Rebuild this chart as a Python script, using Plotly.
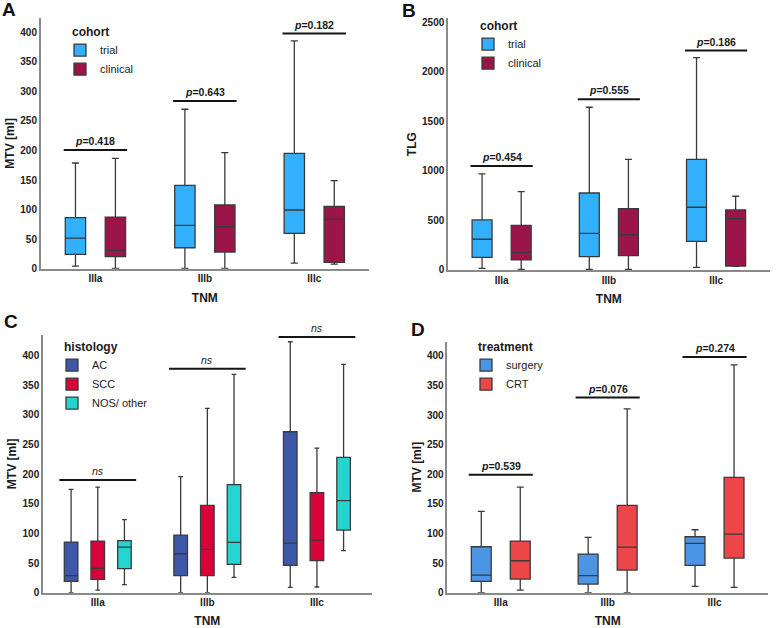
import plotly.graph_objects as go

W, H = 777, 628
FONT = "Liberation Sans, Arial, sans-serif"

# ---------------- data ----------------
TNM = ["IIIa", "IIIb", "IIIc"]

# Panel A: MTV [ml] by cohort
A_NAMES = ["trial", "clinical"]
A_TRIAL_LOW = [4.5, 0.5, 9.6]
A_TRIAL_Q1 = [24.3, 35.5, 59.8]
A_TRIAL_MED = [51.9, 73.3, 99.3]
A_TRIAL_Q3 = [86.3, 141.0, 195.2]
A_TRIAL_HIGH = [178.8, 269.7, 385.3]
A_CLIN_LOW = [0.6, 0.5, 7.9]
A_CLIN_Q1 = [20.3, 28.2, 10.7]
A_CLIN_MED = [31.0, 71.0, 83.5]
A_CLIN_Q3 = [87.4, 107.8, 105.5]
A_CLIN_HIGH = [186.7, 196.3, 149.0]
A_BRACKET_Y = [200.8, 283.8, 397.7]
A_PVALUES = ["0.418", "0.643", "0.182"]

# Panel B: TLG by cohort
B_NAMES = ["trial", "clinical"]
B_TRIAL_LOW = [17, 7, 27]
B_TRIAL_Q1 = [128, 135, 289]
B_TRIAL_MED = [310, 370, 633]
B_TRIAL_Q3 = [505, 777, 1117]
B_TRIAL_HIGH = [969, 1642, 2143]
B_CLIN_LOW = [7, 7, 37]
B_CLIN_Q1 = [101, 145, 40]
B_CLIN_MED = [178, 357, 518]
B_CLIN_Q3 = [451, 619, 606]
B_CLIN_HIGH = [791, 1117, 744]
B_BRACKET_Y = [1050, 1723, 2214]
B_PVALUES = ["0.454", "0.555", "0.186"]

# Panel C: MTV [ml] by histology
C_NAMES = ["AC", "SCC", "NOS/ other"]
C_AC_LOW = [0.0, 0.0, 9.0]
C_AC_Q1 = [19.1, 28.7, 46.1]
C_AC_MED = [28.7, 65.8, 83.8]
C_AC_Q3 = [85.5, 97.3, 271.7]
C_AC_HIGH = [174.4, 195.8, 423.6]
C_SCC_LOW = [4.5, 0.0, 9.6]
C_SCC_Q1 = [22.5, 28.7, 54.0]
C_SCC_MED = [41.0, 73.1, 88.9]
C_SCC_Q3 = [87.2, 147.4, 168.8]
C_SCC_HIGH = [178.3, 311.0, 244.2]
C_NOS_LOW = [13.5, 25.9, 70.9]
C_NOS_Q1 = [40.5, 47.8, 105.8]
C_NOS_MED = [77.0, 85.0, 155.3]
C_NOS_Q3 = [87.8, 182.3, 228.4]
C_NOS_HIGH = [123.2, 368.5, 385.4]
C_BRACKET_Y = [190.2, 378.0, 431.5]
C_LABELS = ["ns", "ns", "ns"]

# Panel D: MTV [ml] by treatment
D_NAMES = ["surgery", "CRT"]
D_SURG_LOW = [0.0, 0.0, 10.7]
D_SURG_Q1 = [19.1, 14.6, 46.1]
D_SURG_MED = [29.8, 28.7, 83.3]
D_SURG_Q3 = [77.6, 65.3, 94.5]
D_SURG_HIGH = [137.3, 93.4, 106.3]
D_CRT_LOW = [4.5, 0.0, 9.0]
D_CRT_Q1 = [23.0, 38.3, 58.5]
D_CRT_MED = [54.0, 77.0, 99.0]
D_CRT_Q3 = [87.2, 147.4, 194.7]
D_CRT_HIGH = [178.3, 310.5, 384.8]
D_BRACKET_Y = [199.2, 329.7, 398.3]
D_PVALUES = ["0.539", "0.076", "0.274"]

# ---------------- styles ----------------
COL_TRIAL = "#33B0FC"
COL_CLIN = "#9C1549"
COL_AC = "#3D58A8"
COL_SCC = "#D8033A"
COL_NOS = "#24D4D0"
COL_SURG = "#4B95E5"
COL_CRT = "#EC4649"
BOX_LINE = "#3a3a3a"
AXIS_LINE = "#8a8a8a"

panels = [
    dict(key="A", xa="x", ya="y", leg="legend", ytitle="MTV [ml]", legtitle="cohort",
         yrange=[0, 424], dtick=50, xdom=[0.0524, 0.4749], ydom=[0.5721, 0.9713], hw=0.29,
         series=[(A_NAMES[0], COL_TRIAL, A_TRIAL_LOW, A_TRIAL_Q1, A_TRIAL_MED, A_TRIAL_Q3, A_TRIAL_HIGH),
                 (A_NAMES[1], COL_CLIN, A_CLIN_LOW, A_CLIN_Q1, A_CLIN_MED, A_CLIN_Q3, A_CLIN_HIGH)],
         brackets=A_BRACKET_Y, labels=["<i>p</i>=" + p for p in A_PVALUES], bold=True,
         letter=(8.5, 10), legpos=(70, 20)),
    dict(key="B", xa="x2", ya="y2", leg="legend2", ytitle="TLG", legtitle="cohort",
         yrange=[0, 2540], dtick=500, xdom=[0.5766, 0.9906], ydom=[0.5701, 0.9709], hw=0.29,
         series=[(B_NAMES[0], COL_TRIAL, B_TRIAL_LOW, B_TRIAL_Q1, B_TRIAL_MED, B_TRIAL_Q3, B_TRIAL_HIGH),
                 (B_NAMES[1], COL_CLIN, B_CLIN_LOW, B_CLIN_Q1, B_CLIN_MED, B_CLIN_Q3, B_CLIN_HIGH)],
         brackets=B_BRACKET_Y, labels=["<i>p</i>=" + p for p in B_PVALUES], bold=True,
         letter=(409, 10.5), legpos=(478, 14)),
    dict(key="C", xa="x3", ya="y3", leg="legend3", ytitle="MTV [ml]", legtitle="histology",
         yrange=[0, 435], dtick=50, xdom=[0.0553, 0.4784], ydom=[0.0562, 0.4666], hw=0.35,
         series=[(C_NAMES[0], COL_AC, C_AC_LOW, C_AC_Q1, C_AC_MED, C_AC_Q3, C_AC_HIGH),
                 (C_NAMES[1], COL_SCC, C_SCC_LOW, C_SCC_Q1, C_SCC_MED, C_SCC_Q3, C_SCC_HIGH),
                 (C_NAMES[2], COL_NOS, C_NOS_LOW, C_NOS_Q1, C_NOS_MED, C_NOS_Q3, C_NOS_HIGH)],
         brackets=C_BRACKET_Y, labels=["<i>" + t + "</i>" for t in C_LABELS], bold=False,
         letter=(11, 321.5), legpos=(62, 335)),
    dict(key="D", xa="x4", ya="y4", leg="legend4", ytitle="MTV [ml]", legtitle="treatment",
         yrange=[0, 424], dtick=50, xdom=[0.5757, 0.9884], ydom=[0.0562, 0.4559], hw=0.30,
         series=[(D_NAMES[0], COL_SURG, D_SURG_LOW, D_SURG_Q1, D_SURG_MED, D_SURG_Q3, D_SURG_HIGH),
                 (D_NAMES[1], COL_CRT, D_CRT_LOW, D_CRT_Q1, D_CRT_MED, D_CRT_Q3, D_CRT_HIGH)],
         brackets=D_BRACKET_Y, labels=["<i>p</i>=" + p for p in D_PVALUES], bold=True,
         letter=(418, 329.5), legpos=(476, 335)),
]

fig = go.Figure()
shapes, annotations = [], []
layout = dict(
    width=W, height=H, margin=dict(l=0, r=0, t=0, b=0, autoexpand=False),
    paper_bgcolor="white", plot_bgcolor="white",
    font=dict(family=FONT, color="#1a1a1a"),
    boxmode="group", boxgap=0.27, boxgroupgap=0.49,
    showlegend=True,
)

for p in panels:
    for name, col, lo, q1, med, q3, hi in p["series"]:
        fig.add_trace(go.Box(
            x=TNM, lowerfence=lo, q1=q1, median=med, q3=q3, upperfence=hi,
            name=name, fillcolor=col, line=dict(color=BOX_LINE, width=1.3),
            whiskerwidth=0.35, boxpoints=False,
            xaxis=p["xa"], yaxis=p["ya"], legend=p["leg"],
            alignmentgroup=p["key"], offsetgroup=name,
        ))
    xname = "xaxis" + p["xa"][1:]
    yname = "yaxis" + p["ya"][1:]
    layout[xname] = dict(
        domain=p["xdom"], anchor=p["ya"], type="category", range=[-0.5, 2.5], automargin=False,
        showline=True, linecolor=AXIS_LINE, linewidth=1.5, ticks="", showgrid=False,
        zeroline=False, tickfont=dict(size=10, weight="bold", color="#222"),
        title=dict(text="TNM", font=dict(size=12, weight="bold", color="#1a1a1a"), standoff=10),
    )
    layout[yname] = dict(
        domain=p["ydom"], anchor=p["xa"], range=p["yrange"], dtick=p["dtick"], tick0=0, automargin=False,
        showline=True, linecolor=AXIS_LINE, linewidth=1.5, ticks="", showgrid=False,
        zeroline=False, tickfont=dict(size=10, weight="bold", color="#222"),
        title=dict(text=p["ytitle"], font=dict(size=12, weight="bold", color="#1a1a1a"), standoff=3),
    )
    lx, ly = p["legpos"]
    layout[p["leg"]] = dict(
        x=lx / W, y=1 - ly / H, xanchor="left", yanchor="top",
        bgcolor="rgba(0,0,0,0)", borderwidth=0, indentation=-10,
        title=dict(text=p["legtitle"], side="top", font=dict(size=12, weight="bold", color="#1a1a1a")),
        font=dict(size=11, color="#1a1a1a"), tracegroupgap=0, itemclick=False,
    )
    for i, (yv, txt) in enumerate(zip(p["brackets"], p["labels"])):
        shapes.append(dict(type="line", xref=p["xa"], yref=p["ya"],
                           x0=i - p["hw"], x1=i + p["hw"], y0=yv, y1=yv,
                           line=dict(color="#151515", width=2)))
        annotations.append(dict(xref=p["xa"], yref=p["ya"], x=i, y=yv, text=txt,
                                showarrow=False, yanchor="bottom", yshift=1,
                                font=dict(size=10.5, weight="bold" if p["bold"] else "normal",
                                          color="#1a1a1a")))
    cx, cy = p["letter"]
    annotations.append(dict(xref="paper", yref="paper", x=cx / W, y=1 - cy / H, text=p["key"],
                            showarrow=False, xanchor="center", yanchor="middle",
                            font=dict(size=19, weight="bold", color="#111")))

layout["shapes"] = shapes
layout["annotations"] = annotations
fig.update_layout(**layout)
fig.write_html("out.html", config={"displayModeBar": False},
               post_script="document.body.style.margin='0px';")
